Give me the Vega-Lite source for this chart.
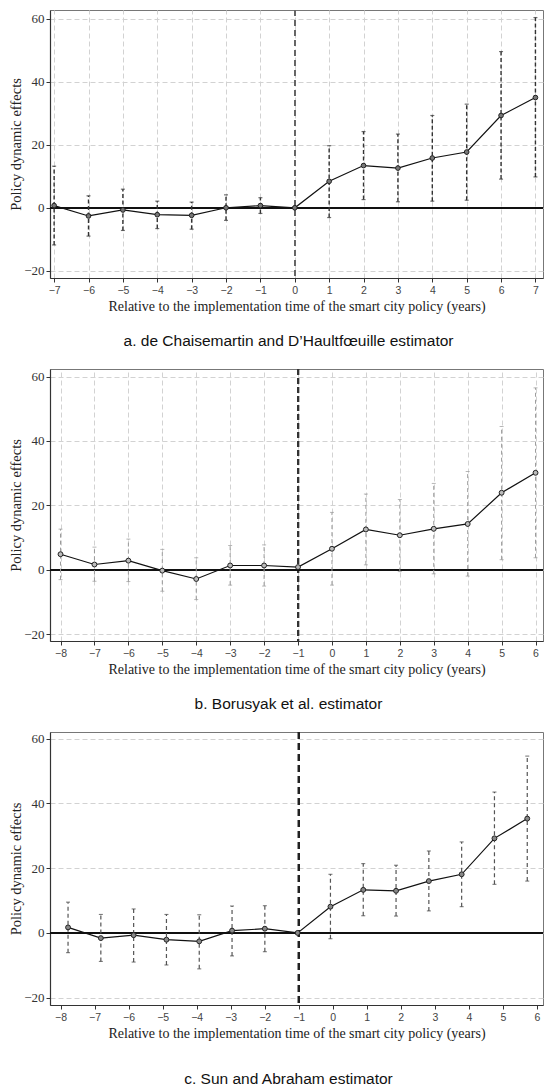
{
  "$schema": "https://vega.github.io/schema/vega-lite/v6.json",
  "description": "Event-study plots of the smart city policy, three estimators",
  "background": "white",
  "padding": {"left": 8, "top": 8, "right": 0, "bottom": 0},
  "spacing": 91,
  "bounds": "flush",
  "config": {
    "view": {"stroke": "#777", "strokeWidth": 1},
    "axis": {
      "domainColor": "#333", "domainWidth": 1.2,
      "tickColor": "#333", "tickSize": 4,
      "grid": true, "gridColor": "#d2d2d2", "gridDash": [5, 3], "gridWidth": 1,
      "titleFont": "Liberation Serif", "titleFontSize": 14, "titleFontWeight": "normal", "titleColor": "#222",
      "labelFlush": false, "labelOverlap": false
    },
    "axisX": {"labelFont": "Liberation Sans", "labelFontSize": 10.5, "labelColor": "#444", "labelPadding": 3, "titlePadding": 4},
    "axisY": {"labelFont": "Liberation Serif", "labelFontSize": 13, "labelColor": "#333", "labelPadding": 2, "titlePadding": 0, "titleFontSize": 14.5},
    "title": {"font": "Liberation Sans", "fontSize": 15.5, "fontWeight": "normal", "color": "#111", "orient": "bottom", "anchor": "middle", "frame": "group", "offset": 20, "dx": -8}
  },
  "datasets": {
    "dch": [
      {"t": -7, "est": 0.7, "lo": -11.8, "hi": 13.2},
      {"t": -6, "est": -2.6, "lo": -9.0, "hi": 3.8},
      {"t": -5, "est": -0.7, "lo": -7.2, "hi": 5.9},
      {"t": -4, "est": -2.2, "lo": -6.6, "hi": 2.1},
      {"t": -3, "est": -2.4, "lo": -6.8, "hi": 1.8},
      {"t": -2, "est": 0.0, "lo": -4.0, "hi": 4.1},
      {"t": -1, "est": 0.7, "lo": -1.8, "hi": 3.2},
      {"t": 0, "est": 0.0, "lo": null, "hi": null},
      {"t": 1, "est": 8.4, "lo": -3.1, "hi": 19.7},
      {"t": 2, "est": 13.4, "lo": 2.6, "hi": 24.2},
      {"t": 3, "est": 12.6, "lo": 1.9, "hi": 23.4},
      {"t": 4, "est": 15.8, "lo": 2.1, "hi": 29.3},
      {"t": 5, "est": 17.7, "lo": 2.4, "hi": 32.9},
      {"t": 6, "est": 29.3, "lo": 9.1, "hi": 49.6},
      {"t": 7, "est": 35.0, "lo": 9.8, "hi": 60.4}
    ],
    "bjs": [
      {"t": -8, "est": 4.8, "lo": -3.1, "hi": 12.6},
      {"t": -7, "est": 1.6, "lo": -3.6, "hi": 7.0},
      {"t": -6, "est": 2.8, "lo": -3.7, "hi": 9.5},
      {"t": -5, "est": -0.3, "lo": -6.7, "hi": 6.3},
      {"t": -4, "est": -2.9, "lo": -9.3, "hi": 3.7},
      {"t": -3, "est": 1.3, "lo": -4.8, "hi": 7.5},
      {"t": -2, "est": 1.3, "lo": -5.1, "hi": 7.7},
      {"t": -1, "est": 0.8, "lo": null, "hi": null},
      {"t": 0, "est": 6.5, "lo": -4.8, "hi": 17.8},
      {"t": 1, "est": 12.5, "lo": 1.5, "hi": 23.5},
      {"t": 2, "est": 10.7, "lo": -0.6, "hi": 21.8},
      {"t": 3, "est": 12.7, "lo": -1.3, "hi": 26.8},
      {"t": 4, "est": 14.2, "lo": -2.0, "hi": 30.5},
      {"t": 5, "est": 23.9, "lo": 3.1, "hi": 44.5},
      {"t": 6, "est": 30.1, "lo": 3.7, "hi": 56.5}
    ],
    "sa": [
      {"t": -8, "est": 1.7, "lo": -6.1, "hi": 9.5},
      {"t": -7, "est": -1.6, "lo": -8.8, "hi": 5.7},
      {"t": -6, "est": -0.7, "lo": -9.0, "hi": 7.4},
      {"t": -5, "est": -2.1, "lo": -9.9, "hi": 5.7},
      {"t": -4, "est": -2.6, "lo": -11.1, "hi": 5.6},
      {"t": -3, "est": 0.7, "lo": -7.1, "hi": 8.3},
      {"t": -2, "est": 1.3, "lo": -5.8, "hi": 8.4},
      {"t": -1, "est": 0.0, "lo": null, "hi": null},
      {"t": 0, "est": 8.1, "lo": -1.8, "hi": 18.1},
      {"t": 1, "est": 13.3, "lo": 5.3, "hi": 21.4},
      {"t": 2, "est": 13.0, "lo": 5.2, "hi": 20.9},
      {"t": 3, "est": 16.0, "lo": 6.8, "hi": 25.3},
      {"t": 4, "est": 18.1, "lo": 8.1, "hi": 28.1},
      {"t": 5, "est": 29.2, "lo": 15.0, "hi": 43.5},
      {"t": 6, "est": 35.3, "lo": 16.0, "hi": 54.6}
    ]
  },
  "vconcat": [
    {
      "width": 493,
      "height": 268,
      "title": "a. de Chaisemartin and D’Haultfœuille estimator",
      "data": {"name": "dch"},
      "resolve": {"scale": {"x": "independent"}},
      "layer": [
        {
          "mark": {"type": "rule", "color": "#666", "strokeDash": [6, 4], "strokeWidth": 1.5},
          "encoding": {
            "x": {"datum": 0, "type": "quantitative",
                  "scale": {"domain": [-7.12, 7.22], "nice": false, "zero": false},
                  "axis": {"title": "Relative to the implementation time of the smart city policy (years)",
                           "values": [-7, -6, -5, -4, -3, -2, -1, 0, 1, 2, 3, 4, 5, 6, 7], "grid": true, "labelOverlap": false}}
          }
        },
        {
          "layer": [
            {
              "mark": {"type": "rule", "color": "#111", "strokeWidth": 1.3},
              "encoding": {
                "y": {"datum": 0, "type": "quantitative", "title": "Policy dynamic effects",
                      "scale": {"domain": [-22.3, 62.8], "nice": false, "zero": false},
                      "axis": {"values": [-20, 0, 20, 40, 60], "grid": true}}
              }
            },
            {
              "transform": [{"filter": "datum.lo != null"}],
              "mark": {"type": "rule", "color": "#333", "strokeDash": [4, 2.5], "strokeWidth": 1.4},
              "encoding": {
                "x": {"field": "t", "type": "quantitative", "axis": null,
                      "scale": {"domain": [-7.12, 7.22], "nice": false, "zero": false}},
                "y": {"field": "lo", "type": "quantitative", "title": "Policy dynamic effects"},
                "y2": {"field": "hi"}
              }
            },
            {
              "transform": [{"filter": "datum.lo != null"}],
              "mark": {"type": "tick", "orient": "horizontal", "color": "#333", "size": 4, "thickness": 1.2},
              "encoding": {
                "x": {"field": "t", "type": "quantitative", "axis": null},
                "y": {"field": "hi", "type": "quantitative", "title": "Policy dynamic effects"}
              }
            },
            {
              "transform": [{"filter": "datum.lo != null"}],
              "mark": {"type": "tick", "orient": "horizontal", "color": "#333", "size": 4, "thickness": 1.2},
              "encoding": {
                "x": {"field": "t", "type": "quantitative", "axis": null},
                "y": {"field": "lo", "type": "quantitative", "title": "Policy dynamic effects"}
              }
            },
            {
              "mark": {"type": "line", "color": "#111", "strokeWidth": 1.2},
              "encoding": {
                "x": {"field": "t", "type": "quantitative", "axis": null},
                "y": {"field": "est", "type": "quantitative", "title": "Policy dynamic effects"}
              }
            },
            {
              "mark": {"type": "circle", "fill": "#777", "fillOpacity": 1, "stroke": "#222", "strokeWidth": 1, "size": 22},
              "encoding": {
                "x": {"field": "t", "type": "quantitative", "axis": null},
                "y": {"field": "est", "type": "quantitative", "title": "Policy dynamic effects"}
              }
            }
          ]
        }
      ]
    },
    {
      "width": 493,
      "height": 272,
      "title": "b. Borusyak et al. estimator",
      "data": {"name": "bjs"},
      "resolve": {"scale": {"x": "independent"}},
      "layer": [
        {
          "mark": {"type": "rule", "color": "#333", "strokeDash": [6, 3], "strokeWidth": 2},
          "encoding": {
            "x": {"datum": -1, "type": "quantitative",
                  "scale": {"domain": [-8.31, 6.22], "nice": false, "zero": false},
                  "axis": {"title": "Relative to the implementation time of the smart city policy (years)",
                           "values": [-8, -7, -6, -5, -4, -3, -2, -1, 0, 1, 2, 3, 4, 5, 6], "grid": true, "labelOverlap": false}}
          }
        },
        {
          "layer": [
            {
              "mark": {"type": "rule", "color": "#111", "strokeWidth": 1.3},
              "encoding": {
                "y": {"datum": 0, "type": "quantitative", "title": "Policy dynamic effects",
                      "scale": {"domain": [-22.17, 62.36], "nice": false, "zero": false},
                      "axis": {"values": [-20, 0, 20, 40, 60], "grid": true}}
              }
            },
            {
              "transform": [{"filter": "datum.lo != null"}],
              "mark": {"type": "rule", "color": "#9a9a9a", "strokeDash": [4, 3], "strokeWidth": 1},
              "encoding": {
                "x": {"field": "t", "type": "quantitative", "axis": null,
                      "scale": {"domain": [-8.31, 6.22], "nice": false, "zero": false}},
                "y": {"field": "lo", "type": "quantitative", "title": "Policy dynamic effects"},
                "y2": {"field": "hi"}
              }
            },
            {
              "transform": [{"filter": "datum.lo != null"}],
              "mark": {"type": "tick", "orient": "horizontal", "color": "#999", "size": 4, "thickness": 1},
              "encoding": {
                "x": {"field": "t", "type": "quantitative", "axis": null},
                "y": {"field": "hi", "type": "quantitative", "title": "Policy dynamic effects"}
              }
            },
            {
              "transform": [{"filter": "datum.lo != null"}],
              "mark": {"type": "tick", "orient": "horizontal", "color": "#999", "size": 4, "thickness": 1},
              "encoding": {
                "x": {"field": "t", "type": "quantitative", "axis": null},
                "y": {"field": "lo", "type": "quantitative", "title": "Policy dynamic effects"}
              }
            },
            {
              "mark": {"type": "line", "color": "#111", "strokeWidth": 1.2},
              "encoding": {
                "x": {"field": "t", "type": "quantitative", "axis": null},
                "y": {"field": "est", "type": "quantitative", "title": "Policy dynamic effects"}
              }
            },
            {
              "mark": {"type": "circle", "fill": "#bbb", "fillOpacity": 1, "stroke": "#222", "strokeWidth": 1, "size": 24},
              "encoding": {
                "x": {"field": "t", "type": "quantitative", "axis": null},
                "y": {"field": "est", "type": "quantitative", "title": "Policy dynamic effects"}
              }
            }
          ]
        }
      ]
    },
    {
      "width": 493,
      "height": 273,
      "title": {"text": "c. Sun and Abraham estimator", "offset": 31},
      "data": {"name": "sa"},
      "resolve": {"scale": {"x": "independent"}},
      "layer": [
        {
          "mark": {"type": "rule", "color": "#222", "strokeDash": [7, 4], "strokeWidth": 1.5},
          "encoding": {
            "x": {"datum": -1, "type": "quantitative",
                  "scale": {"domain": [-8.31, 6.18], "nice": false, "zero": false},
                  "axis": {"title": "Relative to the implementation time of the smart city policy (years)",
                           "values": [-8, -7, -6, -5, -4, -3, -2, -1, 0, 1, 2, 3, 4, 5, 6], "grid": false, "labelOverlap": false}}
          }
        },
        {
          "layer": [
            {
              "mark": {"type": "rule", "color": "#111", "strokeWidth": 1.3},
              "encoding": {
                "y": {"datum": 0, "type": "quantitative", "title": "Policy dynamic effects",
                      "scale": {"domain": [-22.26, 62.04], "nice": false, "zero": false},
                      "axis": {"values": [-20, 0, 20, 40, 60], "grid": true}}
              }
            },
            {
              "transform": [{"filter": "datum.lo != null"}],
              "mark": {"type": "rule", "color": "#555", "strokeDash": [4, 3], "strokeWidth": 1.2},
              "encoding": {
                "x": {"field": "t", "type": "quantitative", "axis": null,
                      "scale": {"domain": [-8.55, 6.48], "nice": false, "zero": false}},
                "y": {"field": "lo", "type": "quantitative", "title": "Policy dynamic effects"},
                "y2": {"field": "hi"}
              }
            },
            {
              "transform": [{"filter": "datum.lo != null"}],
              "mark": {"type": "tick", "orient": "horizontal", "color": "#444", "size": 4, "thickness": 1.1},
              "encoding": {
                "x": {"field": "t", "type": "quantitative", "axis": null},
                "y": {"field": "hi", "type": "quantitative", "title": "Policy dynamic effects"}
              }
            },
            {
              "transform": [{"filter": "datum.lo != null"}],
              "mark": {"type": "tick", "orient": "horizontal", "color": "#444", "size": 4, "thickness": 1.1},
              "encoding": {
                "x": {"field": "t", "type": "quantitative", "axis": null},
                "y": {"field": "lo", "type": "quantitative", "title": "Policy dynamic effects"}
              }
            },
            {
              "mark": {"type": "line", "color": "#111", "strokeWidth": 1.2},
              "encoding": {
                "x": {"field": "t", "type": "quantitative", "axis": null},
                "y": {"field": "est", "type": "quantitative", "title": "Policy dynamic effects"}
              }
            },
            {
              "mark": {"type": "circle", "fill": "#888", "fillOpacity": 1, "stroke": "#222", "strokeWidth": 1, "size": 24},
              "encoding": {
                "x": {"field": "t", "type": "quantitative", "axis": null},
                "y": {"field": "est", "type": "quantitative", "title": "Policy dynamic effects"}
              }
            }
          ]
        }
      ]
    }
  ]
}
